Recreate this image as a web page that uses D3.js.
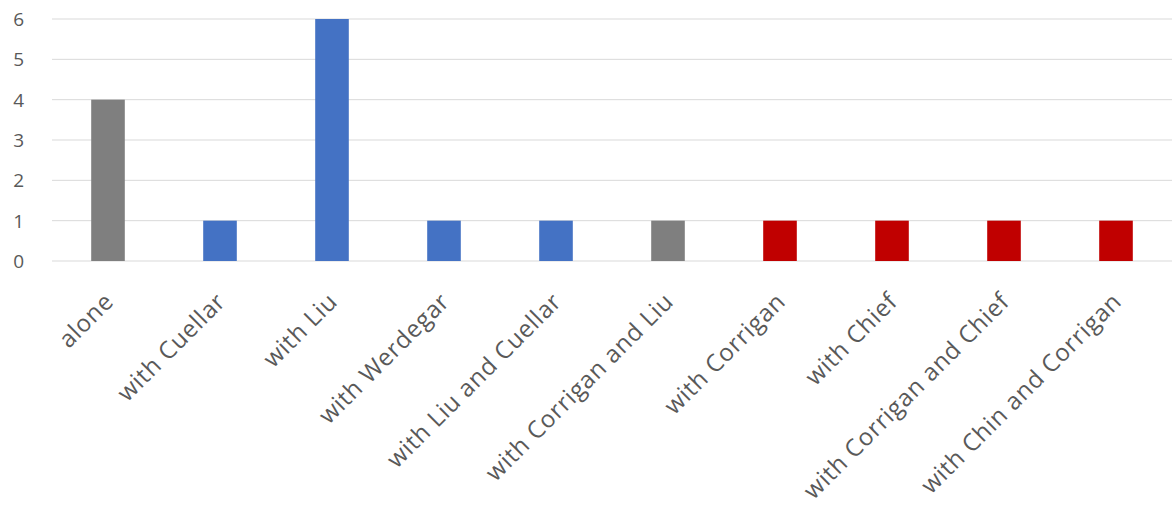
<!DOCTYPE html>
<html>
<head>
<meta charset="utf-8">
<script src="https://cdn.jsdelivr.net/npm/d3@7"></script>
<style>
  body { margin: 0; background: #fff; }
  text { font-family: "Open Sans", "Noto Sans", sans-serif; fill: #595959; }
</style>
</head>
<body>
<svg width="1173" height="506"></svg>
<script>
// data
const categories = ['alone', 'with Cuellar', 'with Liu', 'with Werdegar', 'with Liu and Cuellar',
  'with Corrigan and Liu', 'with Corrigan', 'with Chief', 'with Corrigan and Chief', 'with Chin and Corrigan'];
const counts = [4, 1, 6, 1, 1, 1, 1, 1, 1, 1];
const groups = ['none', 'blue', 'blue', 'blue', 'blue', 'none', 'red', 'red', 'red', 'red'];
const yTicks = [0, 1, 2, 3, 4, 5, 6];

const colors = {none: '#7f7f7f', blue: '#4472c4', red: '#c00000'};

const svg = d3.select('svg');
const margin = {top: 19, right: 1, bottom: 245, left: 52};
const width = +svg.attr('width') - margin.left - margin.right;
const height = +svg.attr('height') - margin.top - margin.bottom;

const g = svg.append('g').attr('transform', `translate(${margin.left},${margin.top})`);

const x = d3.scaleBand().domain(categories).range([0, width]).paddingInner(0.7).paddingOuter(0.35);
const y = d3.scaleLinear().domain([0, 6]).range([height, 0]);

// gridlines
g.selectAll('.grid')
  .data(yTicks)
  .enter().append('line')
  .attr('class', 'grid')
  .attr('x1', 0).attr('x2', width)
  .attr('y1', d => y(d)).attr('y2', d => y(d))
  .attr('stroke', '#d9d9d9')
  .attr('stroke-width', 1);

// y labels
g.selectAll('.ylab')
  .data(yTicks)
  .enter().append('text')
  .attr('class', 'ylab')
  .attr('x', -28)
  .attr('y', d => y(d))
  .attr('dy', '0.36em')
  .attr('text-anchor', 'end')
  .style('font-size', '19px')
  .text(d => d);

// bars
g.selectAll('.bar')
  .data(categories)
  .enter().append('rect')
  .attr('class', 'bar')
  .attr('x', d => x(d))
  .attr('width', x.bandwidth())
  .attr('y', (d, i) => y(counts[i]))
  .attr('height', (d, i) => height - y(counts[i]))
  .attr('fill', (d, i) => colors[groups[i]]);

// category labels, rotated
g.selectAll('.xlab')
  .data(categories)
  .enter().append('text')
  .attr('class', 'xlab')
  .attr('text-anchor', 'end')
  .attr('transform', d => `translate(${x(d) + x.bandwidth() / 2 + 7},${height + 42}) rotate(-45)`)
  .style('font-size', '24px')
  .style('letter-spacing', '0.7px')
  .text(d => d);
</script>
</body>
</html>
